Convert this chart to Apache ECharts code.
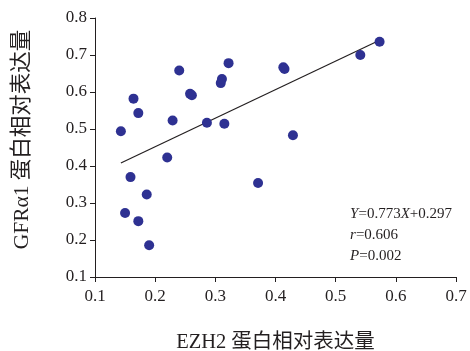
<!DOCTYPE html>
<html><head><meta charset="utf-8">
<script src="https://cdn.jsdelivr.net/npm/echarts@6/dist/echarts.min.js"></script>
<style>html,body{margin:0;padding:0;background:#fff}#c{width:470px;height:351px}</style>
</head><body><div id="c"></div>
<script>
const ezh2 = [0.143,0.164,0.172,0.229,0.240,0.258,0.261,0.286,0.309,0.311,0.315,0.322,0.413,0.415,0.541,0.573,0.429,0.220,0.159,0.186,0.150,0.172,0.190,0.371];
const gfra1 = [0.494,0.582,0.543,0.523,0.658,0.595,0.591,0.517,0.624,0.635,0.514,0.678,0.667,0.662,0.700,0.736,0.483,0.423,0.370,0.323,0.273,0.251,0.186,0.354];
const fitX = [0.143, 0.573];
const fitY = [0.408, 0.740];
const xTicks = [0.1,0.2,0.3,0.4,0.5,0.6,0.7];
const yTicks = [0.1,0.2,0.3,0.4,0.5,0.6,0.7,0.8];

const serif = '"Liberation Serif","Noto Sans CJK SC",serif';
const chart = echarts.init(document.getElementById('c'));
chart.setOption({
  animation:false,
  grid:{left:95,right:14,top:18,bottom:74,outerBoundsMode:'none',containLabel:false},
  xAxis:{type:'value',min:xTicks[0],max:xTicks[xTicks.length-1],interval:0.1,
    name:'EZH2 蛋白相对表达量',nameLocation:'middle',nameGap:55,
    nameTextStyle:{fontFamily:serif,fontSize:20.5,color:'#231f20'},
    axisLine:{lineStyle:{color:'#231f20',width:1}},
    axisTick:{show:true,length:5,lineStyle:{color:'#231f20'}},
    axisLabel:{fontFamily:serif,fontSize:17,color:'#231f20',margin:11,formatter:v=>v.toFixed(1)},
    splitLine:{show:false}},
  yAxis:{type:'value',min:yTicks[0],max:yTicks[yTicks.length-1],interval:0.1,
    name:'GFRα1 蛋白相对表达量',nameLocation:'middle',nameGap:62,
    nameTextStyle:{fontFamily:serif,fontSize:21.5,color:'#231f20',padding:[0,0,0,16]},
    axisLine:{show:true,lineStyle:{color:'#231f20',width:1}},
    axisTick:{show:true,length:5,lineStyle:{color:'#231f20'}},
    axisLabel:{fontFamily:serif,fontSize:17,color:'#231f20',margin:8,formatter:v=>v.toFixed(1)},
    splitLine:{show:false}},
  graphic:[{type:'text',right:18,top:204,style:{
    text:'{i|Y}=0.773{i|X}+0.297\n{i|r}=0.606\n{i|P}=0.002',
    align:'right',fontFamily:serif,fontSize:15,lineHeight:21,fill:'#231f20',
    rich:{i:{fontStyle:'italic',fontFamily:serif,fontSize:15,lineHeight:21}}}}],
  series:[
    {type:'line',data:fitX.map((x,i)=>[x,fitY[i]]),symbol:'none',
     lineStyle:{color:'#231f20',width:1.2},z:1},
    {type:'scatter',data:ezh2.map((x,i)=>[x,gfra1[i]]),symbolSize:10,
     itemStyle:{color:'#2e3192',opacity:1},z:2}
  ]
});
</script></body></html>
